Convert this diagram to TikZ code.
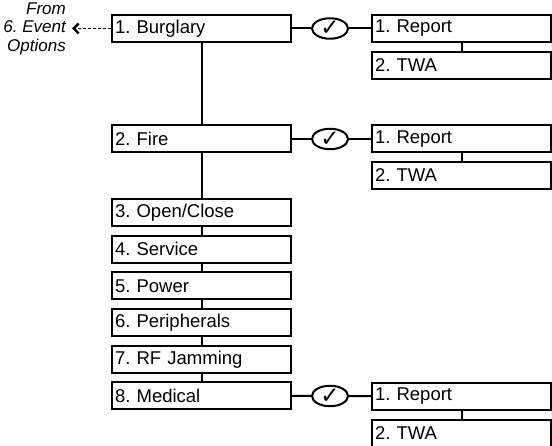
\documentclass[tikz,border=0pt]{standalone}
\usepackage{fontspec}
\setmainfont{Liberation Sans}
\newfontfamily\symfont{DejaVu Sans}
\usetikzlibrary{arrows.meta,shapes.geometric}
\frenchspacing
\begin{document}
\begin{tikzpicture}[x=1pt,y=-1pt,
  box/.style={draw, line width=2pt, text width=173pt, inner xsep=3pt, inner ysep=0pt,
    minimum height=27pt, align=left, font=\fontsize{18.5}{20}\selectfont},
  check/.style={draw, ellipse, line width=2pt, minimum width=36pt, minimum height=18pt,
    inner sep=0pt, font=\symfont\fontsize{23}{23}\selectfont},
  link/.style={line width=2pt},
  note/.style={align=right, anchor=east, inner sep=0pt,
    font=\itshape\fontsize{17}{18.5}\selectfont}]
\clip (0,0) rectangle (552,446);
% left column
\node[box] (b1) at (201.5,28.5) {1. Burglary};
\node[box] (b2) at (201.5,139) {2. Fire};
\node[box] (b3) at (201.5,212.5) {3. Open/Close};
\node[box] (b4) at (201.5,249.2) {4. Service};
\node[box] (b5) at (201.5,285.9) {5. Power};
\node[box] (b6) at (201.5,322.6) {6. Peripherals};
\node[box] (b7) at (201.5,359.3) {7. RF Jamming};
\node[box] (b8) at (201.5,396) {8. Medical};
% checks
\node[check] (c1) at (330,28.5) {\raisebox{-1pt}{✓}};
\node[check] (c2) at (330,139) {\raisebox{-1pt}{✓}};
\node[check] (c3) at (330,396) {\raisebox{-1pt}{✓}};
% right column
\node[box] (r1) at (461.5,28.5) {1. Report};
\node[box] (t1) at (461.5,65.5) {2. TWA};
\node[box] (r2) at (461.5,139) {1. Report};
\node[box] (t2) at (461.5,175.5) {2. TWA};
\node[box] (r3) at (461.5,396.5) {1. Report};
\node[box] (t3) at (461.5,433.5) {2. TWA};
% note
\node[note] (src) at (66,28.5) {From\\6. Event\\Options};
\coordinate (tip) at (72,28.5);
% connectors
\draw[link] (b1) -- (c1) -- (r1);
\draw[link] (b2) -- (c2) -- (r2);
\draw[link] (b8) -- (c3) -- (r3);
\draw[link] (r1) -- (t1);
\draw[link] (r2) -- (t2);
\draw[link] (r3) -- (t3);
\draw[link] (b1) -- (b2);
\draw[link] (b2) -- (b3);
\draw[link] (b3) -- (b4);
\draw[link] (b4) -- (b5);
\draw[link] (b5) -- (b6);
\draw[link] (b6) -- (b7);
\draw[link] (b7) -- (b8);
\draw[line width=1.6pt, dash pattern=on 3pt off 2pt, -{Straight Barb[length=5pt,width=10pt,line width=2.4pt]}] (b1.west) -- (tip);
\end{tikzpicture}
\end{document}
